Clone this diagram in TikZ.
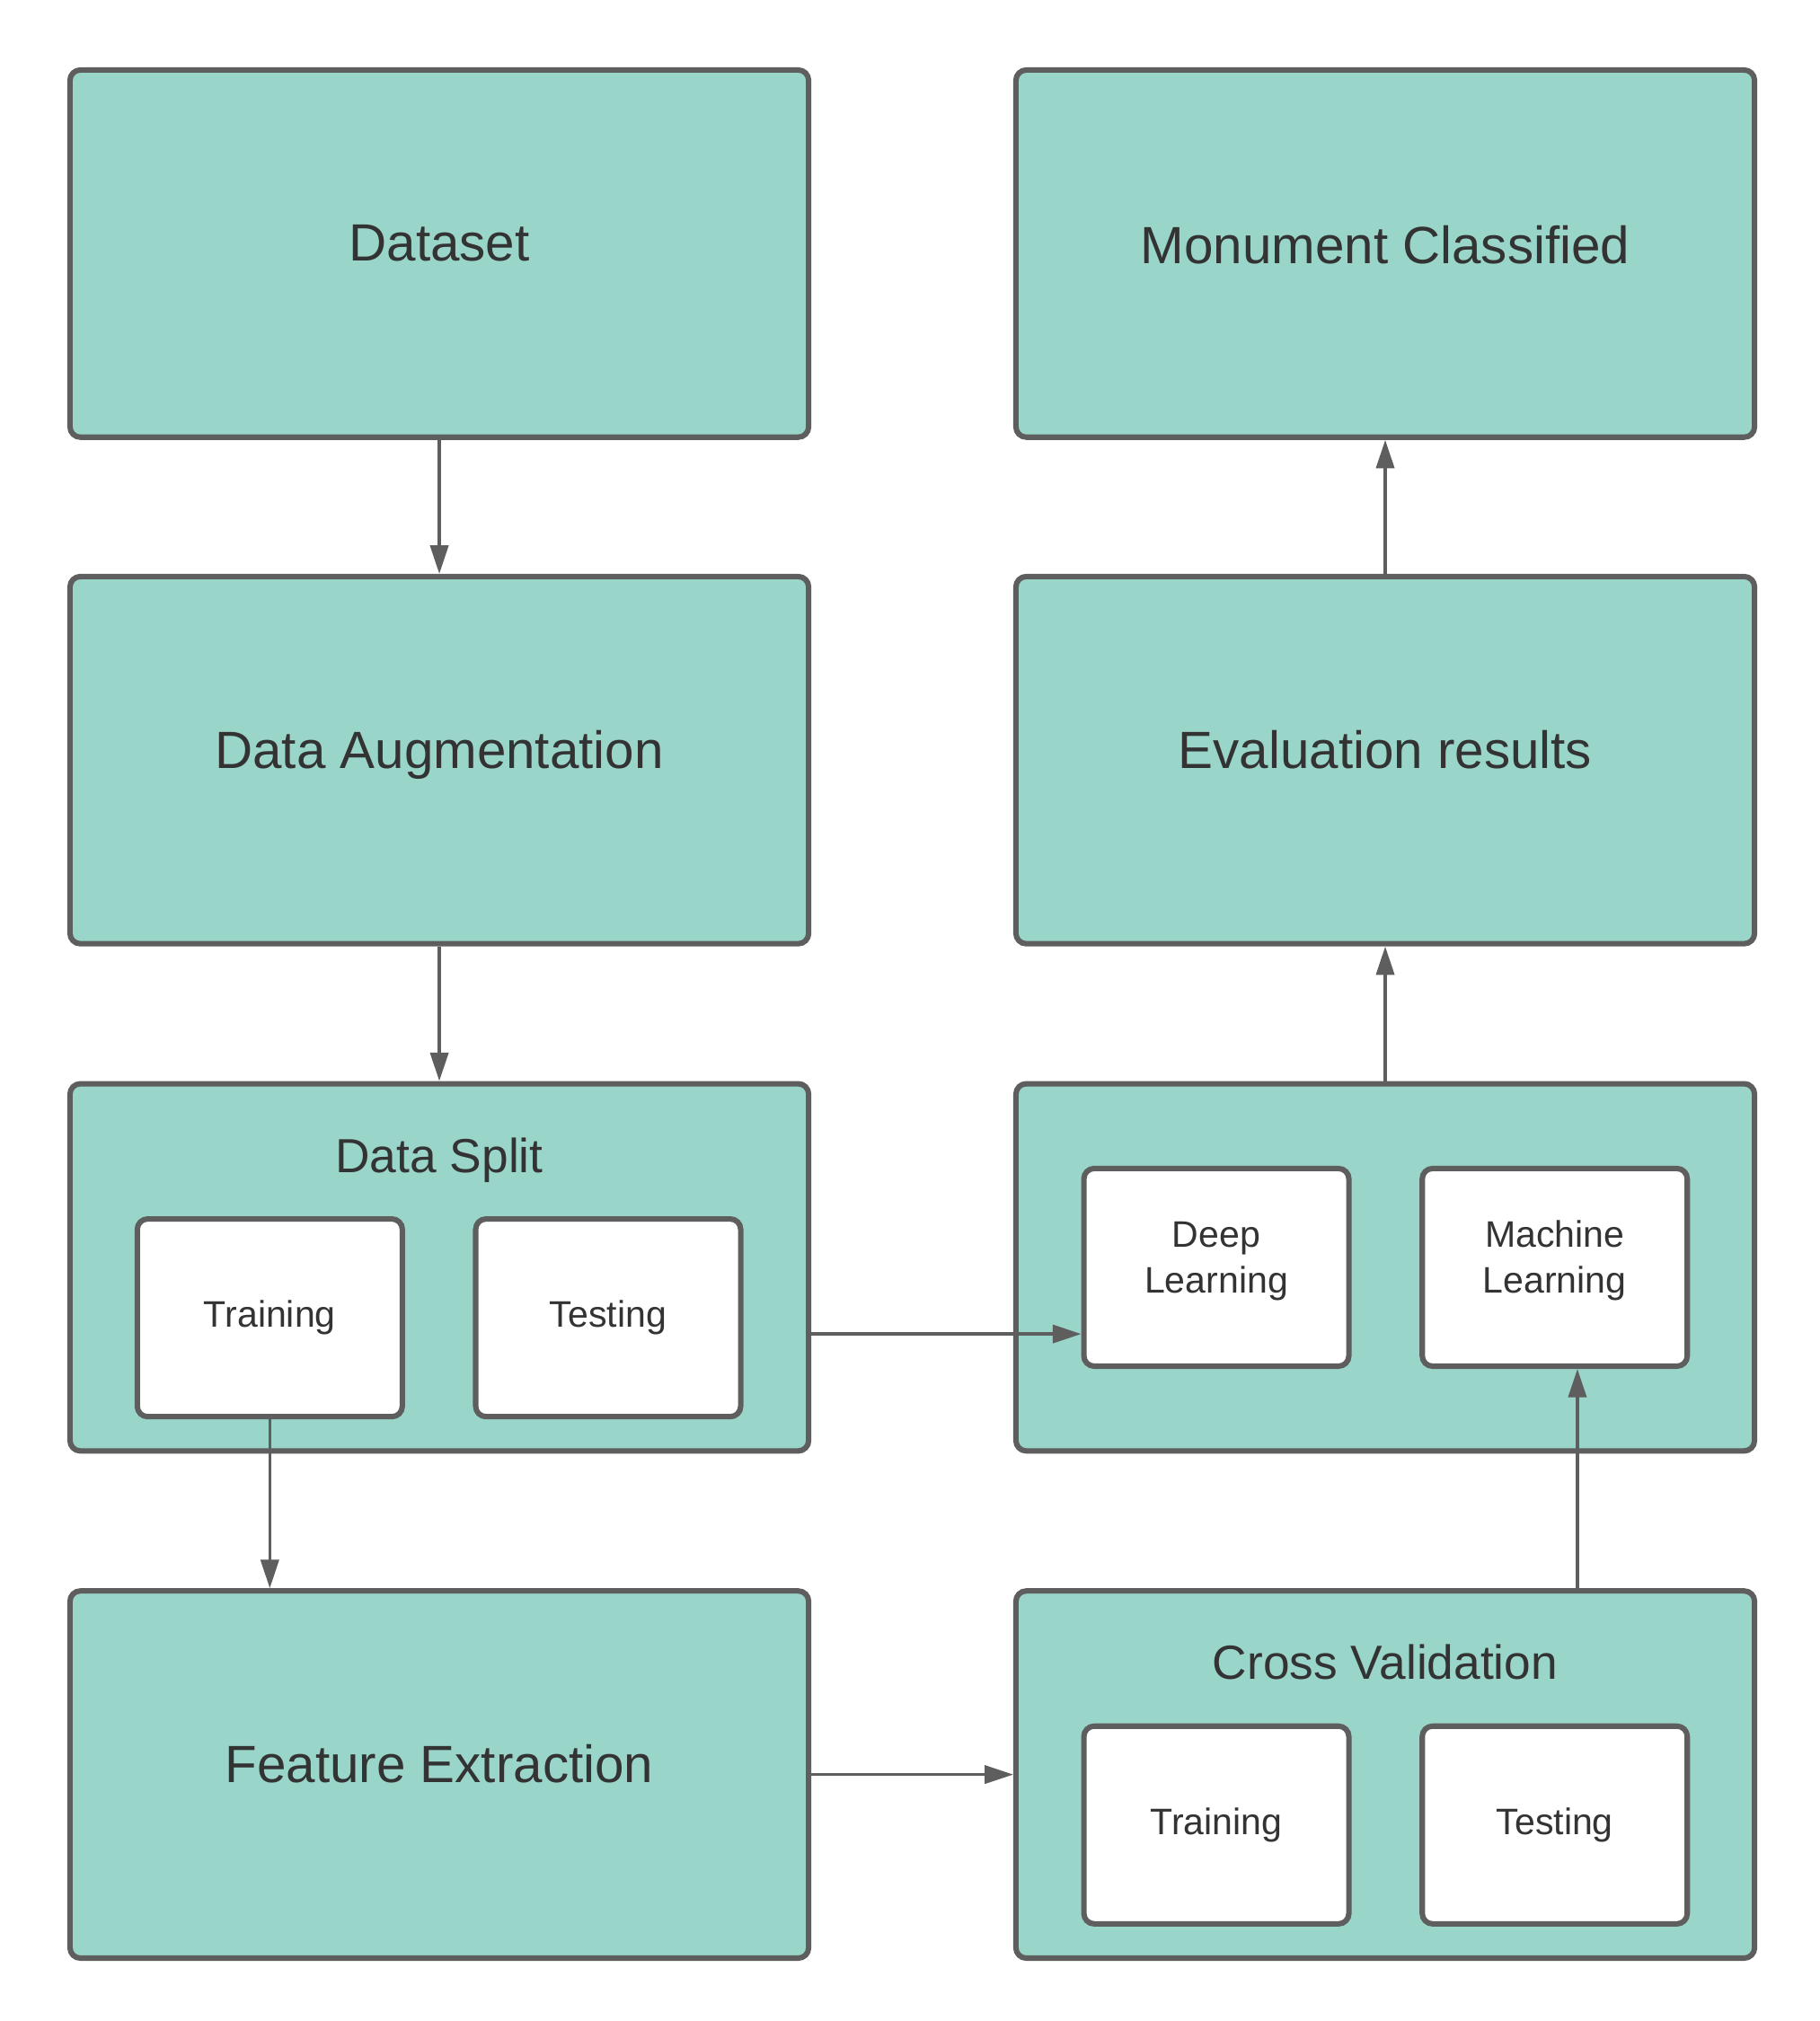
\documentclass[tikz,border=0pt]{standalone}
\usepackage{fontspec}
\setmainfont{Liberation Sans}
\usetikzlibrary{arrows.meta,calc}
\definecolor{tealc}{HTML}{9AD5CA}
\definecolor{bordc}{HTML}{5E5E5E}
\definecolor{txtc}{HTML}{333333}
\begin{document}
\begin{tikzpicture}[x=1pt,y=-1pt,
  bigbox/.style={draw=bordc, fill=tealc, line width=4.2pt, rounded corners=8pt,
    minimum width=570.8pt, minimum height=283.8pt, inner sep=0pt},
  smallbox/.style={draw=bordc, fill=white, line width=4.2pt, rounded corners=8pt,
    minimum width=204.8pt, minimum height=152.8pt, inner sep=0pt},
  bigtxt/.style={anchor=base, text=txtc, inner sep=0pt, font=\fontsize{40.5pt}{48pt}\selectfont},
  midtxt/.style={anchor=base, text=txtc, inner sep=0pt, font=\fontsize{37pt}{44pt}\selectfont},
  smalltxt/.style={anchor=base, text=txtc, inner sep=0pt, font=\fontsize{28.5pt}{34pt}\selectfont},
  arr/.style={draw=bordc, line width=2.3pt, -{Triangle[length=22pt,width=14pt]}}]
\useasboundingbox (0,0) rectangle (1406,1562);

% boxes
\node[bigbox] (dset) at (339.5,196) {};
\node[bigbox] (daug) at (339.5,587.5) {};
\node[bigbox] (dsplit) at (339.5,979.5) {};
\node[bigbox] (fe) at (339.5,1371.5) {};
\node[bigbox] (mon) at (1070.5,196) {};
\node[bigbox] (eval) at (1070.5,587.5) {};
\node[bigbox] (models) at (1070.5,979.5) {};
\node[bigbox] (cv) at (1070.5,1371.5) {};

\node[smallbox] (trn) at (208.5,1018.5) {};
\node[smallbox] (tst) at (470,1018.5) {};
\node[smallbox] (dl) at (940,979.5) {};
\node[smallbox] (ml) at (1201.5,979.5) {};
\node[smallbox] (cvtrn) at (940,1410.5) {};
\node[smallbox] (cvtst) at (1201.5,1410.5) {};

% texts
\node[bigtxt] (tdset) at (339.5,202) {Dataset};
\node[bigtxt] (tmon) at (1070.5,204) {Monument Classified};
\node[bigtxt] (tdaug) at (339.5,594) {Data Augmentation};
\node[bigtxt] (teval) at (1070.5,594) {Evaluation results};
\node[bigtxt] (tfe) at (339.5,1378) {Feature Extraction};
\node[midtxt] (tdsplit) at (339.5,906) {Data Split};
\node[midtxt] (tcv) at (1070.5,1298) {Cross Validation};
\node[smalltxt] (ttrn) at (208.5,1026) {Training};
\node[smalltxt] (ttst) at (470,1026) {Testing};
\node[smalltxt] (tdla) at (940,964) {Deep};
\node[smalltxt] (tdlb) at (940,999) {Learning};
\node[smalltxt] (tmla) at (1201.5,964) {Machine};
\node[smalltxt] (tmlb) at (1201.5,999) {Learning};
\node[smalltxt] (tcvtrn) at (940,1418) {Training};
\node[smalltxt] (tcvtst) at (1201.5,1418) {Testing};

% connectors
\coordinate (mlx) at ([xshift=17.5pt]ml.south);
\draw[arr] (dset.south) -- (daug.north);
\draw[arr] (daug.south) -- (dsplit.north);
\draw[arr] (trn.south) -- (trn.south |- fe.north);
\draw[arr] (fe.east) -- (cv.west);
\draw[arr] (cv.north -| mlx) -- (mlx);
\draw[arr] ([yshift=-51.5pt]dsplit.east) -- ([yshift=-51.5pt]dl.west);
\draw[arr] (models.north) -- (eval.south);
\draw[arr] (eval.north) -- (mon.south);
\end{tikzpicture}
\end{document}
